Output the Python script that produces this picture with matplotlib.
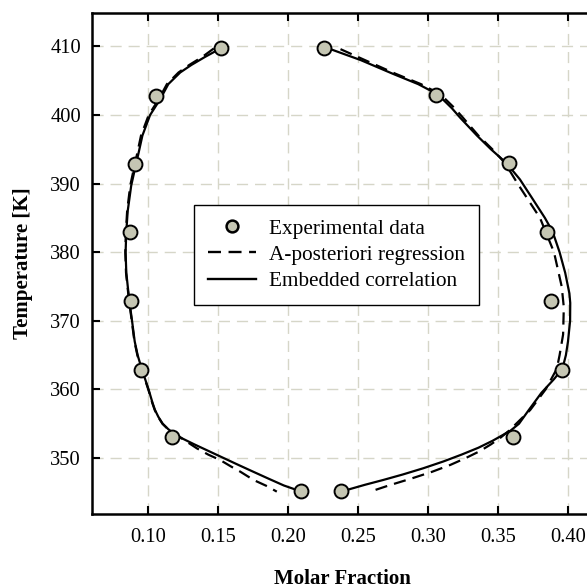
import matplotlib
matplotlib.use("Agg")
import matplotlib.pyplot as plt

plt.rcParams['font.family'] = ['Liberation Serif', 'DejaVu Serif']

# Experimental data
exp_x = [0.152, 0.106, 0.091, 0.087, 0.088, 0.095, 0.117, 0.209,
         0.238, 0.361, 0.396, 0.388, 0.385, 0.358, 0.306, 0.226]
exp_T = [409.7, 402.8, 392.9, 383.0, 372.9, 362.9, 353.0, 345.2,
         345.2, 353.0, 362.9, 372.9, 383.0, 393.0, 402.9, 409.7]

# Embedded correlation (solid) - left branch
sol_left_T = [409.5, 408.5, 407.3, 406.2, 404.5, 402.3, 400.0, 397.0, 394.5, 392.0, 389.7,
              386.0, 383.0, 380.0, 377.0, 373.0, 370.0, 367.0, 365.0, 363.0, 360.0,
              358.0, 357.0, 356.0, 355.0, 354.2, 353.5, 352.8, 352.0, 351.0, 350.0,
              349.0, 348.0, 347.0, 346.0, 345.5]
sol_left_x = [0.150, 0.141, 0.131, 0.123, 0.1145, 0.1087, 0.1015, 0.0960, 0.0933, 0.0905, 0.0880,
              0.0855, 0.0845, 0.0840, 0.0845, 0.0866, 0.0886, 0.0905, 0.0926, 0.0955, 0.1004,
              0.1033, 0.1050, 0.1074, 0.1105, 0.1145, 0.1190, 0.1250, 0.1330, 0.1435, 0.1540,
              0.1645, 0.1752, 0.1860, 0.1970, 0.2040]

# Embedded correlation (solid) - right branch
sol_right_T = [409.7, 408.0, 406.0, 404.5, 403.0, 401.0, 399.6, 397.0, 395.0, 393.0,
               390.6, 388.0, 385.0, 383.0, 380.0, 377.0, 374.0, 372.6, 370.0, 367.0,
               365.0, 363.0, 361.5, 359.5, 357.0, 355.0, 354.0, 353.3, 352.5, 351.5,
               350.5, 349.5, 348.5, 347.6, 346.8, 346.1, 345.4]
sol_right_x = [0.229, 0.252, 0.275, 0.293, 0.307, 0.317, 0.323, 0.335, 0.345, 0.356,
               0.3657, 0.374, 0.3835, 0.389, 0.394, 0.398, 0.4010, 0.4016, 0.4015, 0.400,
               0.3985, 0.396, 0.390, 0.381, 0.372, 0.365, 0.359, 0.353, 0.346, 0.336,
               0.324, 0.311, 0.2965, 0.282, 0.268, 0.255, 0.243]

# A-posteriori regression (dashed) - left branch
das_left_T = [409.7, 408.5, 407.3, 406.2, 404.5, 402.3, 400.0, 397.0, 394.5, 392.0, 389.7,
              386.0, 383.0, 380.0, 377.0, 373.0, 370.0, 367.0, 365.0, 363.0, 360.0,
              358.0, 357.0, 356.0, 355.0, 354.2, 353.5, 352.8, 352.0, 351.4, 350.5,
              349.7, 348.8, 348.0, 346.8, 345.9, 345.1]
das_left_x = [0.147, 0.139, 0.1295, 0.1218, 0.1135, 0.1077, 0.1005, 0.0950, 0.0924, 0.0897, 0.0873,
              0.0851, 0.0842, 0.0838, 0.0843, 0.0864, 0.0884, 0.0903, 0.0924, 0.0953, 0.1002,
              0.1031, 0.1048, 0.1072, 0.1103, 0.1143, 0.1188, 0.1245, 0.1305, 0.1350, 0.1430,
              0.1516, 0.1590, 0.1660, 0.1754, 0.1850, 0.1920]

# A-posteriori regression (dashed) - right branch
das_right_T = [409.6, 408.0, 406.0, 404.5, 403.0, 401.0, 399.6, 397.0, 395.0, 393.0,
               390.0, 385.0, 380.0, 375.0, 372.0, 368.0, 365.0, 363.0, 360.0, 357.0,
               355.0, 354.0, 353.0, 352.0, 351.0, 350.0, 349.0, 348.0, 347.0, 346.0, 345.1]
das_right_x = [0.2375, 0.255, 0.277, 0.295, 0.309, 0.319, 0.325, 0.336, 0.346, 0.355,
               0.364, 0.380, 0.390, 0.3955, 0.397, 0.3965, 0.394, 0.392, 0.384, 0.373,
               0.363, 0.358, 0.352, 0.345, 0.337, 0.327, 0.316, 0.303, 0.288, 0.272, 0.2587]

x_ticks = [0.10, 0.15, 0.20, 0.25, 0.30, 0.35, 0.40]
y_ticks = [350, 360, 370, 380, 390, 400, 410]

fig = plt.figure(figsize=(5.87, 5.88), dpi=100)
ax = fig.add_axes([92/587, 74/588, 495/587, 501/588])

grid_kw = dict(color='#d6d6c8', linewidth=1.0, dashes=(8, 5), zorder=0)
for xt in x_ticks:
    ax.axvline(xt, **grid_kw)
for yt in y_ticks:
    ax.axhline(yt, **grid_kw)

ax.plot(das_left_x, das_left_T, color='black', lw=1.6, dashes=(5.5, 3.2), zorder=2)
ax.plot(das_right_x, das_right_T, color='black', lw=1.6, dashes=(5.5, 3.2), zorder=2)
ax.plot(sol_left_x, sol_left_T, color='black', lw=1.6, zorder=3)
ax.plot(sol_right_x, sol_right_T, color='black', lw=1.6, zorder=3)
ax.plot(exp_x, exp_T, linestyle='none', marker='o', markersize=10,
        markerfacecolor='#c5c6b3', markeredgecolor='black', markeredgewidth=1.4, zorder=4)

# legend proxies
h1, = ax.plot([], [], linestyle='none', marker='o', markersize=8.5,
              markerfacecolor='#c5c6b3', markeredgecolor='black', markeredgewidth=1.8)
h2, = ax.plot([], [], color='black', lw=1.7, dashes=(5.5, 3.2))
h3, = ax.plot([], [], color='black', lw=1.7)
leg = ax.legend([h1, h2, h3], ['Experimental data', 'A-posteriori regression', 'Embedded correlation'],
                loc='upper left', bbox_to_anchor=(0.206, 0.617), borderaxespad=0,
                fontsize=15.3, frameon=True, fancybox=False, edgecolor='black',
                handlelength=2.25, handletextpad=0.62, labelspacing=0.3,
                borderpad=0.65)
leg.get_frame().set_linewidth(1.0)
leg.get_frame().set_alpha(1)

ax.set_xlim(0.06, 0.06 + 495/1400)
ax.set_ylim(341.84, 414.87)
ax.set_xticks(x_ticks)
ax.set_xticklabels([f'{v:.2f}' for v in x_ticks])
ax.set_yticks(y_ticks)
ax.tick_params(axis='both', direction='in', length=6, width=1.5, labelsize=14.8,
               top=True, right=False, pad=8)
ax.tick_params(axis='x', pad=10)
for s in ['left', 'bottom', 'top']:
    ax.spines[s].set_linewidth(1.8)
ax.spines['right'].set_visible(False)

fig.text(342/587, 1 - 579/588, 'Molar Fraction', ha='center', va='center',
         fontsize=15, fontweight='bold')
fig.text(23/587, 1 - 263/588, 'Temperature [K]', ha='center', va='center',
         rotation=90, fontsize=15, fontweight='bold')

fig.savefig('out.png', dpi=100)
